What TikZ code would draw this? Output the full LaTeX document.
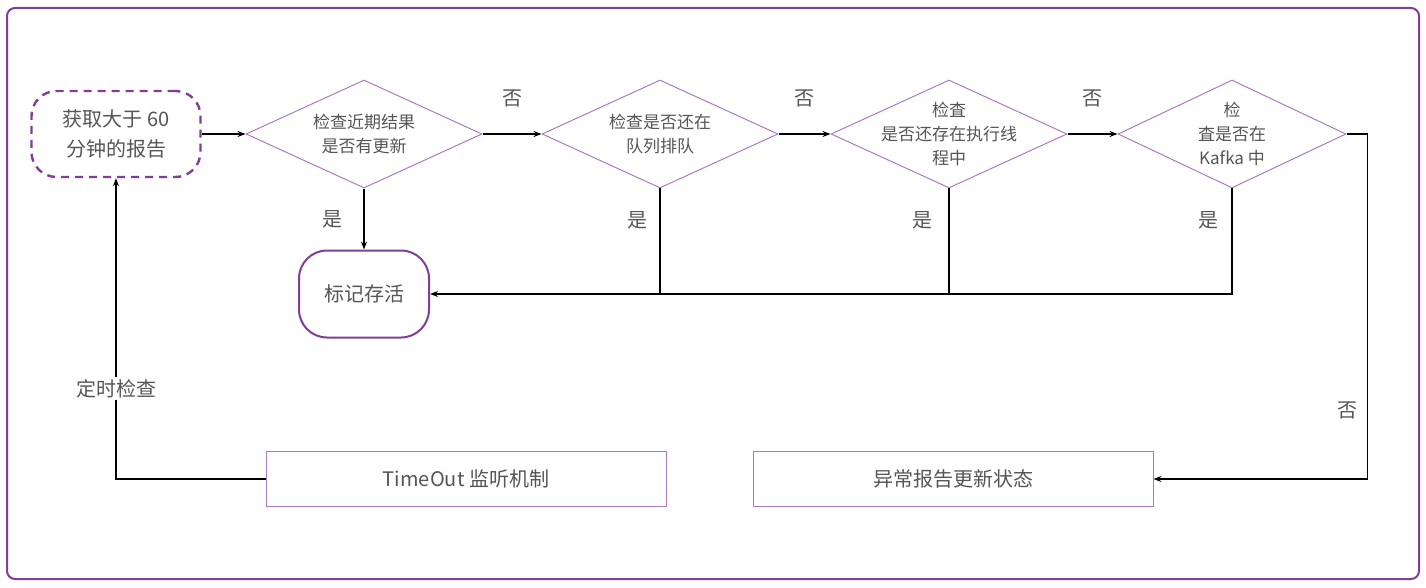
\documentclass[tikz,border=0pt]{standalone}
\usepackage{fontspec}
\setmainfont{Noto Sans CJK SC}
\usetikzlibrary{arrows.meta, positioning, shapes.geometric}

\definecolor{deep}{HTML}{7F3F97}
\definecolor{soft}{HTML}{A97CC0}
\definecolor{txt}{HTML}{555555}

\begin{document}
\begin{tikzpicture}[x=1pt, y=-1pt, node distance=100pt, on grid]
    \tikzstyle{startbox}=[draw=deep, line width=2.4pt, dash pattern=on 8pt off 6pt, rounded corners=25pt, minimum width=169pt, minimum height=86pt, align=center, text=txt, font=\fontsize{20}{30}\selectfont]
    \tikzstyle{decision}=[diamond, draw=soft, line width=1pt, minimum width=236pt, minimum height=108pt, inner sep=0pt]
    \tikzstyle{dtext}=[align=center, text=txt, font=\fontsize{17}{24}\selectfont]
    \tikzstyle{terminal}=[draw=deep, line width=2pt, rounded corners=28pt, minimum width=130pt, minimum height=87pt, text=txt, font=\fontsize{20}{30}\selectfont]
    \tikzstyle{process}=[draw=soft, line width=1pt, minimum width=400pt, minimum height=55pt, text=txt, font=\fontsize{20}{30}\selectfont]
    \tikzstyle{lbl}=[text=txt, inner sep=2pt, font=\fontsize{20}{24}\selectfont]
    \tikzstyle{line}=[line width=1.5pt, black]
    \tikzstyle{flow}=[line, -{Stealth[length=8pt, width=6pt]}]

    \useasboundingbox (0,0) rectangle (1426,588);
    \draw[deep, line width=2pt, rounded corners=8pt] (7,8) rectangle (1419,579);

    \node[startbox] (fetch) at (116,134) {获取大于 60\\分钟的报告};
    \node[decision, label={[dtext]center:{检查近期结果\\是否有更新}}] [right=248pt of fetch] (d1) {};
    \node[decision, label={[dtext]center:{检查是否还在\\队列排队}}] [right=296pt of d1] (d2) {};
    \node[decision, label={[dtext]center:{检査\\是否还存在执行线\\程中}}] [right=289pt of d2] (d3) {};
    \node[decision, minimum width=228pt, label={[dtext]center:{检\\査是否在\\Kafka 中}}] [right=283pt of d3] (d4) {};

    \node[terminal] [below=160pt of d1] (alive) {标记存活};
    \node[process] [below right=185pt and 102pt of alive] (timeout) {TimeOut 监听机制};
    \node[process] [below right=345pt and 4pt of d3] (abnormal) {异常报告更新状态};

    \coordinate[right=21pt of d4.east] (d4out);

    \draw[flow] (fetch.east) -- (d1.west);
    \draw[flow] (d1) -- node[lbl, yshift=36pt] {否} (d2);
    \draw[flow] (d2) -- node[lbl, yshift=36pt] {否} (d3);
    \draw[flow] (d3) -- node[lbl, yshift=36pt] {否} (d4);

    \draw[flow] (d1) -- node[lbl, xshift=-32pt] {是} (alive);
    \draw[line] (d2.south) -- node[lbl, pos=.3, xshift=-23pt] {是} (d2.south |- alive.east);
    \draw[line] (d3.south) -- node[lbl, pos=.3, xshift=-27pt] {是} (d3.south |- alive.east);
    \draw[flow] (d4.south) -- node[lbl, pos=.3, xshift=-24pt] {是} (d4.south |- alive.east) -- (alive.east);

    \draw[flow] (d4.east) -- (d4out) -- node[lbl, pos=.8, xshift=-20pt] {否} (d4out |- abnormal.east) -- (abnormal.east);
    \draw[flow] (timeout.west) -| node[lbl, fill=white, pos=.65] {定时检查} (fetch.south);
\end{tikzpicture}
\end{document}
